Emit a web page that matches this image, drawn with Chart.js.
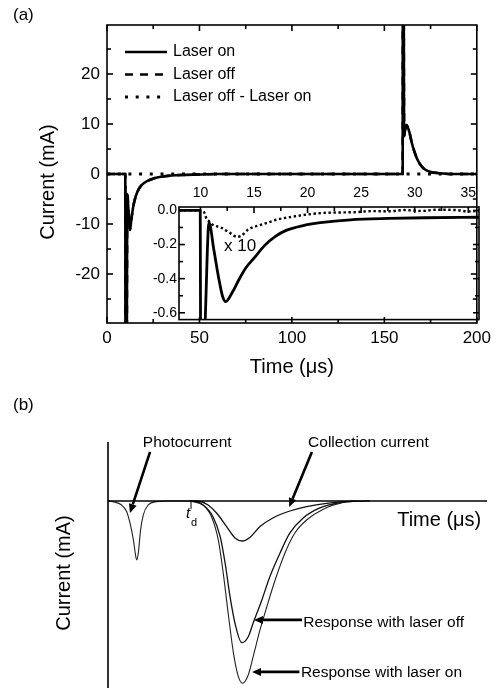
<!DOCTYPE html>
<html>
<head>
<meta charset="utf-8">
<script src="https://cdn.jsdelivr.net/npm/chart.js@4.4.1/dist/chart.umd.min.js"></script>
<style>
  body { margin: 0; background: #fff; }
  #page { position: relative; width: 496px; height: 689px; overflow: hidden; }
  canvas { position: absolute; }
</style>
</head>
<body>
<div id="page">
  <canvas id="mainChart" width="496" height="390" style="left:0;top:0;width:496px;height:390px"></canvas>
  <canvas id="insetChart" width="366" height="150" style="left:130px;top:180px;width:366px;height:150px"></canvas>
  <canvas id="schemeChart" width="496" height="299" style="left:0;top:390px;width:496px;height:299px"></canvas>
</div>
<script>
// --- (a) main trace: time in µs, current in mA ---
const mainTime = [0, 9.9, 10.0, 10.5, 11.0, 11.7, 12.4, 13.2, 14.2, 15.5, 17.5, 20, 23, 26, 30, 35, 40, 50, 60, 100,
                  159.9, 160.0, 160.3, 160.7, 161.3, 162.0, 163.5, 165, 166.5, 168, 170, 172, 175, 180, 186, 200];
const laserOn  = [0, 0, -60, -60, -4, -8, -11.2, -9, -6.5, -4.5, -2.8, -1.8, -1.2, -0.8, -0.5, -0.3, -0.2, -0.1, 0, 0,
                  0, 60, 60, 7.5, 9, 9.8, 8.4, 6, 4.2, 2.8, 1.6, 0.9, 0.4, 0.15, 0, 0];
const laserOff = [0, 0, -60, -60, -4, -8, -11.2, -9, -6.5, -4.5, -2.8, -1.8, -1.2, -0.8, -0.5, -0.3, -0.2, -0.1, 0, 0,
                  0, 60, 60, 7.5, 9, 9.8, 8.4, 6, 4.2, 2.8, 1.6, 0.9, 0.4, 0.15, 0, 0];
const diffTime  = [0, 10, 20, 30, 40, 50, 60, 70, 80, 90, 100, 110, 120, 130, 140, 150, 160, 170, 180, 190, 200];
const laserDiff = [0, 0, 0, 0, 0, 0, 0, 0, 0, 0, 0, 0, 0, 0, 0, 0, 0, 0, 0, 0, 0];

const mainXTicks = [0, 50, 100, 150, 200];
const mainXMinor = [25, 75, 125, 175];
const mainYTicks = [-20, -10, 0, 10, 20];
const mainYMinor = [-25, -15, -5, 5, 15, 25];

// --- (a) inset ---
const insetTime = [8, 9.98, 10.02, 10.3, 10.8, 11.26, 11.73, 12.05, 12.36, 12.98, 13.6, 14.2, 15.0, 16.0, 17.0, 18.0,
                   19.5, 21.2, 24, 27.6, 31, 36];
const insetOn   = [0, 0, -0.8, -0.8, -0.072, -0.234, -0.405, -0.5, -0.535, -0.48, -0.405, -0.34, -0.28, -0.205, -0.152, -0.117,
                   -0.09, -0.072, -0.055, -0.047, -0.043, -0.04];
const insetDiffTime = [8, 10, 10.3, 10.6, 10.8, 11.1, 11.9, 12.7, 13.45, 13.8, 14.5, 15.3, 16.25, 17.2, 18.5, 19.85,
                       21.4, 23, 24.5, 26, 27.6, 29, 30.7, 32, 33.9, 35, 36];
const insetDiff     = [0, 0, -0.006, -0.053, -0.063, -0.082, -0.1, -0.13, -0.155, -0.149, -0.11, -0.091, -0.072, -0.053, -0.038, -0.025,
                       -0.015, -0.012, -0.01, -0.004, -0.005, 0.002, -0.003, 0.004, 0.002, -0.006, -0.003];

const insetXTicks = [10, 15, 20, 25, 30, 35];
const insetXMinor = [12.5, 17.5, 22.5, 27.5, 32.5];
const insetYTicks = [0, -0.2, -0.4, -0.6];
const insetYMinor = [-0.1, -0.3, -0.5];

// --- (b) schematic, arbitrary units ---
const pcTime    = [0, 1.3, 3.6, 4.9, 5.8, 6.7, 7.4, 7.6, 8.0, 8.6, 9.3, 10.6, 12.8, 16.4, 21.6];
const pcCurrent = [0, -0.004, -0.022, -0.058, -0.12, -0.213, -0.311, -0.322, -0.284, -0.158, -0.077, -0.022, -0.004, 0, 0];
const ccTime    = [21.6, 24.3, 26.4, 28.7, 31.3, 33.5, 35.5, 37.5, 40.1, 43.5, 48.0, 52.4, 57.7, 63.0, 69.1];
const ccCurrent = [0, -0.003, -0.022, -0.067, -0.14, -0.202, -0.219, -0.198, -0.14, -0.093, -0.055, -0.031, -0.013, -0.004, 0];
const offTime    = [21.6, 25.1, 27.7, 29.6, 30.9, 32.2, 33.5, 35.3, 37.0, 38.3, 40.6, 42.7, 45.4, 48.0, 51.5, 55.9, 61.2, 64.6];
const offCurrent = [0, -0.022, -0.086, -0.195, -0.339, -0.523, -0.667, -0.774, -0.742, -0.667, -0.541, -0.414, -0.284, -0.175,
                    -0.093, -0.038, -0.009, 0];
const onTime    = [21.6, 24.3, 27.3, 29.1, 30.4, 31.7, 33.1, 34.4, 35.5, 37.0, 38.3, 40.1, 41.9, 44.1, 46.7, 49.3, 52.4, 56.8, 62.1, 65.6];
const onCurrent = [0, -0.011, -0.086, -0.213, -0.393, -0.612, -0.831, -0.96, -0.996, -0.951, -0.851, -0.705, -0.578, -0.432,
                   -0.284, -0.175, -0.104, -0.045, -0.009, 0];
const tdTime = 21.9;

const FONT = "'Liberation Sans', Arial, Helvetica, sans-serif";
Chart.defaults.font.family = FONT;
Chart.defaults.color = '#000';

const pts = (xs, ys) => xs.map((x, i) => ({ x, y: ys[i] }));
const setTicks = vals => s => { s.ticks = vals.map(v => ({ value: v })); };

// box round the plot area with inward ticks (Origin style)
const frameTicks = {
  id: 'frameTicks',
  afterDatasetsDraw(chart, args, o) {
    const { ctx, chartArea: a, scales: { x, y } } = chart;
    ctx.save();
    ctx.strokeStyle = '#000';
    ctx.lineWidth = 1.6;
    const mark = (x1, y1, x2, y2) => { ctx.beginPath(); ctx.moveTo(x1, y1); ctx.lineTo(x2, y2); ctx.stroke(); };
    const vTicks = (vals, len) => vals.forEach(v => {
      const p = x.getPixelForValue(v);
      if (o.bottom) mark(p, a.bottom, p, a.bottom - len);
      mark(p, a.top, p, a.top + len);
    });
    const hTicks = (vals, len) => vals.forEach(v => {
      const p = y.getPixelForValue(v);
      mark(a.left, p, a.left + len, p);
      mark(a.right, p, a.right - len, p);
    });
    vTicks(o.xMajor, 6); vTicks(o.xMinor, 4);
    hTicks(o.yMajor, 6); hTicks(o.yMinor, 4);
    ctx.strokeRect(a.left, a.top, a.right - a.left, a.bottom - a.top);
    ctx.restore();
  }
};

// titles + legend of panel (a)
const mainLabels = {
  id: 'mainLabels',
  afterDraw(chart) {
    const { ctx, chartArea: a } = chart;
    ctx.save();
    ctx.fillStyle = '#000';
    ctx.strokeStyle = '#000';
    ctx.textBaseline = 'middle';
    ctx.font = `17px ${FONT}`;
    ctx.fillText('(a)', 13, 15);
    ctx.font = `20px ${FONT}`;
    ctx.textAlign = 'center';
    ctx.fillText('Time (\u03bcs)', (a.left + a.right) / 2, 367);
    ctx.save();
    ctx.translate(48, 182);
    ctx.rotate(-Math.PI / 2);
    ctx.fillText('Current (mA)', 0, 0);
    ctx.restore();

    // legend
    ctx.textAlign = 'left';
    ctx.font = `16px ${FONT}`;
    chart.data.datasets.forEach((ds, i) => {
      const ly = 52 + i * 22.5;
      ctx.lineWidth = ds.borderWidth;
      ctx.setLineDash(ds.borderDash || []);
      ctx.beginPath();
      ctx.moveTo(125, ly);
      ctx.lineTo(167, ly);
      ctx.stroke();
      ctx.setLineDash([]);
      ctx.fillText(ds.label, 173, ly);
    });
    ctx.restore();
  }
};

const insetLabels = {
  id: 'insetLabels',
  afterDraw(chart) {
    const { ctx, scales: { x, y } } = chart;
    ctx.save();
    ctx.fillStyle = '#000';
    ctx.font = `17px ${FONT}`;
    ctx.textAlign = 'center';
    ctx.textBaseline = 'middle';
    ctx.fillText('x 10', x.getPixelForValue(13.7), y.getPixelForValue(-0.213));
    ctx.restore();
  }
};

// notes of panel (b), placed in the chart's own units
const schemeNotes = [
  { text: 'Photocurrent', at: [9.2, 0.295], tail: [11.1, 0.268], tip: [5.8, -0.066] },
  { text: 'Collection current', at: [52.8, 0.295], tail: [53.8, 0.268], tip: [47.8, -0.033] },
  { text: 'Response with laser off', at: [51.5, -0.689], tail: [51.2, -0.650], tip: [38.5, -0.650] },
  { text: 'Response with laser on', at: [50.9, -0.962], tail: [50.5, -0.934], tip: [38.0, -0.934] }
];

const schemeLabels = {
  id: 'schemeLabels',
  afterDraw(chart) {
    const { ctx, chartArea: a, scales: { x, y } } = chart;
    const px = v => x.getPixelForValue(v);
    const py = v => y.getPixelForValue(v);
    ctx.save();
    ctx.fillStyle = '#000';
    ctx.strokeStyle = '#000';

    // axes
    ctx.lineWidth = 1.6;
    ctx.beginPath();
    ctx.moveTo(a.left, a.top);
    ctx.lineTo(a.left, a.bottom);
    ctx.moveTo(a.left, py(0));
    ctx.lineTo(a.right, py(0));
    ctx.stroke();

    // t_d marker
    ctx.lineWidth = 1;
    ctx.beginPath();
    ctx.moveTo(px(tdTime), py(0));
    ctx.lineTo(px(tdTime), py(-0.044));
    ctx.stroke();
    ctx.font = `italic 15px ${FONT}`;
    ctx.fillText('t', px(20.6), py(-0.093));
    ctx.font = `11px ${FONT}`;
    ctx.fillText('d', px(21.9), py(-0.137));

    ctx.font = `17px ${FONT}`;
    ctx.textBaseline = 'middle';
    ctx.fillText('(b)', 13, 15);

    ctx.textBaseline = 'alphabetic';
    ctx.font = `20px ${FONT}`;
    ctx.fillText('Time (\u03bcs)', px(76.3), py(-0.138));
    ctx.save();
    ctx.translate(64, 183);
    ctx.rotate(-Math.PI / 2);
    ctx.textAlign = 'center';
    ctx.textBaseline = 'middle';
    ctx.fillText('Current (mA)', 0, 0);
    ctx.restore();

    ctx.font = `15.5px ${FONT}`;
    schemeNotes.forEach(n => {
      ctx.fillText(n.text, px(n.at[0]), py(n.at[1]));
      const x1 = px(n.tail[0]), y1 = py(n.tail[1]);
      const x2 = px(n.tip[0]), y2 = py(n.tip[1]);
      const ang = Math.atan2(y2 - y1, x2 - x1);
      const c = Math.cos(ang), s = Math.sin(ang);
      const head = 9, half = 4;
      ctx.lineWidth = 2.6;
      ctx.beginPath();
      ctx.moveTo(x1, y1);
      ctx.lineTo(x2 - head * c, y2 - head * s);
      ctx.stroke();
      ctx.beginPath();
      ctx.moveTo(x2, y2);
      ctx.lineTo(x2 - head * c - half * s, y2 - head * s + half * c);
      ctx.lineTo(x2 - head * c + half * s, y2 - head * s - half * c);
      ctx.closePath();
      ctx.fill();
    });
    ctx.restore();
  }
};

const common = {
  responsive: false,
  animation: false,
  events: [],
  elements: {
    point: { radius: 0 },
    line: { cubicInterpolationMode: 'monotone', fill: false }
  }
};

// --- panel (a), main plot ---
new Chart(document.getElementById('mainChart'), {
  type: 'line',
  data: {
    datasets: [
      { label: 'Laser on', data: pts(mainTime, laserOn), borderColor: '#000', borderWidth: 2.6, order: 2 },
      { label: 'Laser off', data: pts(mainTime, laserOff), borderColor: '#000', borderWidth: 2.6, borderDash: [8, 7], order: 3 },
      { label: 'Laser off - Laser on', data: pts(diffTime, laserDiff), borderColor: '#000', borderWidth: 3, borderDash: [3, 7.7], order: 1 }
    ]
  },
  options: {
    ...common,
    layout: { padding: { left: 0, right: 17, top: 25, bottom: 0 } },
    scales: {
      x: {
        type: 'linear', min: 0, max: 200,
        grid: { display: false, drawTicks: false }, border: { display: false },
        ticks: { font: { size: 17 }, padding: 5, maxRotation: 0, autoSkip: false },
        afterBuildTicks: setTicks(mainXTicks),
        afterFit: s => { s.height = 67; }
      },
      y: {
        type: 'linear', min: -29.8, max: 29.8,
        grid: { display: false, drawTicks: false }, border: { display: false },
        ticks: { font: { size: 17 }, padding: 7, autoSkip: false },
        afterBuildTicks: setTicks(mainYTicks),
        afterFit: s => { s.width = 107; }
      }
    },
    plugins: {
      legend: { display: false },
      tooltip: { enabled: false },
      frameTicks: { xMajor: mainXTicks, xMinor: mainXMinor, yMajor: mainYTicks, yMinor: mainYMinor, bottom: true }
    }
  },
  plugins: [frameTicks, mainLabels]
});

// --- panel (a), inset ---
new Chart(document.getElementById('insetChart'), {
  type: 'line',
  data: {
    datasets: [
      { label: 'Laser on', data: pts(insetTime, insetOn), borderColor: '#000', borderWidth: 2.8, order: 2 },
      { label: 'Laser off - Laser on (x 10)', data: pts(insetDiffTime, insetDiff), borderColor: '#000', borderWidth: 2.4, borderDash: [2.4, 2.6], order: 1 }
    ]
  },
  options: {
    ...common,
    layout: { padding: { left: 0, right: 17, top: 0, bottom: 7 } },
    scales: {
      x: {
        type: 'linear', position: 'top', min: 8, max: 36,
        grid: { display: false, drawTicks: false }, border: { display: false },
        ticks: { font: { size: 14 }, padding: 5, maxRotation: 0, autoSkip: false },
        afterBuildTicks: setTicks(insetXTicks),
        afterFit: s => { s.height = 27; }
      },
      y: {
        type: 'linear', min: -0.64, max: 0.02,
        grid: { display: false, drawTicks: false }, border: { display: false },
        ticks: { font: { size: 14 }, padding: 2, autoSkip: false, callback: v => v.toFixed(1) },
        afterBuildTicks: setTicks(insetYTicks),
        afterFit: s => { s.width = 49; }
      }
    },
    plugins: {
      legend: { display: false },
      tooltip: { enabled: false },
      frameTicks: { xMajor: insetXTicks, xMinor: insetXMinor, yMajor: insetYTicks, yMinor: insetYMinor, bottom: false }
    }
  },
  plugins: [frameTicks, insetLabels]
});

// --- panel (b), schematic ---
new Chart(document.getElementById('schemeChart'), {
  type: 'line',
  data: {
    datasets: [
      { label: 'Photocurrent', data: pts(pcTime, pcCurrent), borderColor: '#222', borderWidth: 1.1 },
      { label: 'Collection current', data: pts(ccTime, ccCurrent), borderColor: '#111', borderWidth: 1.3 },
      { label: 'Response with laser off', data: pts(offTime, offCurrent), borderColor: '#111', borderWidth: 1.3 },
      { label: 'Response with laser on', data: pts(onTime, onCurrent), borderColor: '#222', borderWidth: 1.1 }
    ]
  },
  options: {
    ...common,
    layout: { padding: { left: 108, right: 9, top: 52, bottom: 1 } },
    scales: {
      x: { type: 'linear', min: 0, max: 100, display: false },
      y: { type: 'linear', min: -1.022, max: 0.322, display: false }
    },
    plugins: { legend: { display: false }, tooltip: { enabled: false } }
  },
  plugins: [schemeLabels]
});
</script>
</body>
</html>
